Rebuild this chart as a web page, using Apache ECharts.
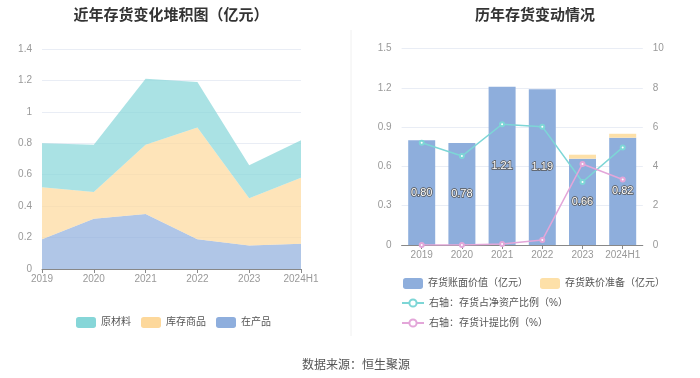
<!DOCTYPE html>
<html><head><meta charset="utf-8">
<script src="https://cdn.jsdelivr.net/npm/echarts@6/dist/echarts.min.js"></script>
<style>html,body{margin:0;padding:0;background:#fff}#c{width:700px;height:378px}</style>
</head><body><div id="c"></div>
<script>
var years = ['2019','2020','2021','2022','2023','2024H1'];
// left: stacked area (亿元)
var wip = [0.19, 0.32, 0.35, 0.19, 0.15, 0.16];        // 在产品
var goods = [0.33, 0.17, 0.44, 0.71, 0.30, 0.42];      // 库存商品
var raw = [0.28, 0.30, 0.42, 0.29, 0.21, 0.24];        // 原材料
// right
var bookValue = [0.80, 0.78, 1.21, 1.19, 0.66, 0.82];  // 存货账面价值（亿元）
var reserve = [0, 0, 0, 0, 0.03, 0.03];                // 存货跌价准备（亿元）
var ratioNet = [5.21, 4.53, 6.15, 6.03, 3.21, 4.97];   // 存货占净资产比例（%）
var ratioProv = [0, 0, 0.05, 0.25, 4.13, 3.34];        // 存货计提比例（%）
var leftTicks = {min: 0, max: 1.4, interval: 0.2};
var rightLeftTicks = {min: 0, max: 1.5, interval: 0.3};
var rightRightTicks = {min: 0, max: 10, interval: 2};

var FF = "'Liberation Sans','Noto Sans CJK SC',sans-serif";
var axisLabelStyle = {color: '#999', fontSize: 10, fontFamily: FF};
var chart = echarts.init(document.getElementById('c'));
chart.setOption({
  animation: false,
  textStyle: {fontFamily: FF},
  title: [
    {text: '近年存货变化堆积图（亿元）', left: 166, top: 3, textAlign: 'center',
     textStyle: {fontSize: 15, fontWeight: 'bold', color: '#333', fontFamily: FF}},
    {text: '历年存货变动情况', left: 530, top: 3, textAlign: 'center',
     textStyle: {fontSize: 15, fontWeight: 'bold', color: '#333', fontFamily: FF}},
    {text: '数据来源：恒生聚源', left: 351, top: 355, textAlign: 'center',
     textStyle: {fontSize: 12, fontWeight: 'normal', color: '#555', fontFamily: FF}}
  ],
  graphic: [{type: 'line', shape: {x1: 351, y1: 30, x2: 351, y2: 336}, style: {stroke: '#f0f0f0', lineWidth: 1}}],
  legend: [
    {data: ['原材料','库存商品','在产品'], left: 76, top: 317, itemWidth: 20, itemHeight: 11, itemGap: 10,
     icon: 'roundRect', textStyle: {fontSize: 10, color: '#555'}, padding: 0},
    {data: ['存货账面价值（亿元）','存货跌价准备（亿元）'], left: 403, top: 278, itemWidth: 20, itemHeight: 11, itemGap: 12,
     icon: 'roundRect', textStyle: {fontSize: 10, color: '#555'}, padding: 0},
    {data: ['右轴：存货占净资产比例（%）'], left: 401, top: 298, itemWidth: 22, itemHeight: 9,
     textStyle: {fontSize: 10, color: '#555'}, padding: 0},
    {data: ['右轴：存货计提比例（%）'], left: 401, top: 318, itemWidth: 22, itemHeight: 9,
     textStyle: {fontSize: 10, color: '#555'}, padding: 0}
  ],
  grid: [
    {left: 42, right: 399, top: 49, bottom: 109},
    {left: 401.6, right: 57.2, top: 48.7, bottom: 133}
  ],
  xAxis: [
    {type: 'category', gridIndex: 0, data: years, boundaryGap: false,
     axisLine: {lineStyle: {color: '#888'}}, axisTick: {show: true, lineStyle: {color: '#888'}, length: 4},
     axisLabel: Object.assign({margin: 5, interval: 0}, axisLabelStyle)},
    {type: 'category', gridIndex: 1, data: years,
     axisLine: {lineStyle: {color: '#888'}}, axisTick: {show: true, alignWithLabel: true, lineStyle: {color: '#888'}, length: 4},
     axisLabel: Object.assign({margin: 5, interval: 0}, axisLabelStyle)}
  ],
  yAxis: [
    {type: 'value', gridIndex: 0, min: leftTicks.min, max: leftTicks.max, interval: leftTicks.interval,
     axisLine: {show: false}, axisTick: {show: false},
     splitLine: {lineStyle: {color: '#e9edf5'}}, axisLabel: Object.assign({margin: 10}, axisLabelStyle)},
    {type: 'value', gridIndex: 1, min: rightLeftTicks.min, max: rightLeftTicks.max, interval: rightLeftTicks.interval,
     axisLine: {show: false}, axisTick: {show: false},
     splitLine: {lineStyle: {color: '#e9edf5'}}, axisLabel: Object.assign({margin: 10}, axisLabelStyle)},
    {type: 'value', gridIndex: 1, position: 'right', min: rightRightTicks.min, max: rightRightTicks.max, interval: rightRightTicks.interval,
     axisLine: {show: false}, axisTick: {show: false},
     splitLine: {show: false}, axisLabel: Object.assign({margin: 10}, axisLabelStyle)}
  ],
  series: [
    {name: '在产品', type: 'line', xAxisIndex: 0, yAxisIndex: 0, stack: 'a', data: wip, symbol: 'none',
     itemStyle: {color: '#8eaedd'}, lineStyle: {width: 0}, areaStyle: {color: '#8eaedd', opacity: 0.7}},
    {name: '库存商品', type: 'line', xAxisIndex: 0, yAxisIndex: 0, stack: 'a', data: goods, symbol: 'none',
     itemStyle: {color: '#fdd89b'}, lineStyle: {width: 0}, areaStyle: {color: '#fdd89b', opacity: 0.7}},
    {name: '原材料', type: 'line', xAxisIndex: 0, yAxisIndex: 0, stack: 'a', data: raw, symbol: 'none',
     itemStyle: {color: '#86d6d8'}, lineStyle: {width: 0}, areaStyle: {color: '#86d6d8', opacity: 0.7}},
    {name: '存货账面价值（亿元）', type: 'bar', xAxisIndex: 1, yAxisIndex: 1, stack: 'b', data: bookValue, barWidth: 27,
     itemStyle: {color: '#8eaedc'},
     label: {show: true, position: 'inside', color: '#fff', fontSize: 11, textBorderColor: '#555', textBorderWidth: 1.5,
       formatter: function(p){return p.value.toFixed(2);}}},
    {name: '存货跌价准备（亿元）', type: 'bar', xAxisIndex: 1, yAxisIndex: 1, stack: 'b', data: reserve, barWidth: 27,
     itemStyle: {color: '#fde0a8'}},
    {name: '右轴：存货占净资产比例（%）', type: 'line', xAxisIndex: 1, yAxisIndex: 2, data: ratioNet,
     symbol: 'emptyCircle', symbolSize: 4, itemStyle: {color: '#7dd6d6'}, lineStyle: {color: '#7dd6d6', width: 1.5}},
    {name: '右轴：存货计提比例（%）', type: 'line', xAxisIndex: 1, yAxisIndex: 2, data: ratioProv,
     symbol: 'emptyCircle', symbolSize: 4, itemStyle: {color: '#e3a6d9'}, lineStyle: {color: '#e3a6d9', width: 1.5}}
  ]
});
</script></body></html>
